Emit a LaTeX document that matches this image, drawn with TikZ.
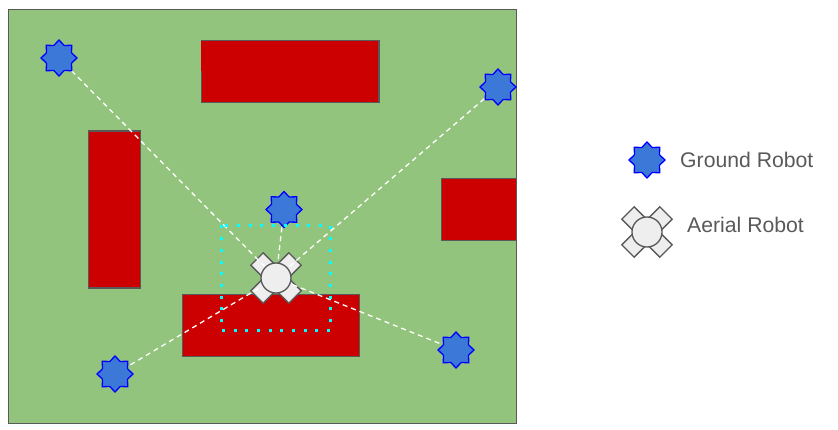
\documentclass[tikz,border=0pt]{standalone}
\usepackage{fontspec}
\setmainfont{Liberation Sans}
\usetikzlibrary{shapes.geometric}
\pgfdeclarelayer{base}
\pgfdeclarelayer{arms}
\pgfdeclarelayer{links}
\pgfsetlayers{base,arms,links,main}
\definecolor{fieldgreen}{HTML}{93C47D}
\definecolor{blockred}{HTML}{CC0000}
\definecolor{edgegrey}{HTML}{595959}
\definecolor{robotblue}{HTML}{3C78D8}
\definecolor{bodygrey}{HTML}{EEEEEE}
\definecolor{zonecyan}{HTML}{00FFFF}
\definecolor{pureblue}{HTML}{0000FF}
\tikzset{
  field/.style={draw=edgegrey,fill=fieldgreen,line width=1.2pt},
  block/.style={draw=edgegrey,fill=blockred,line width=1.2pt},
  ground/.style={star,star points=8,star point ratio=1.33,minimum size=36pt,inner sep=0pt,draw=pureblue,fill=robotblue,line width=1.3pt},
  armbox/.style={rectangle,minimum width=21pt,minimum height=17.5pt,inner sep=0pt,draw=edgegrey,fill=bodygrey,line width=1.3pt},
  hub/.style={circle,minimum size=30pt,inner sep=0pt,draw=edgegrey,fill=bodygrey,line width=1.3pt},
  link/.style={draw=white,line width=1.3pt,dash pattern=on 5pt off 4pt},
  zone/.style={draw=zonecyan,line width=3pt,dash pattern=on 3pt off 8.7pt},
  legendtext/.style={text=edgegrey,font=\fontsize{21.2pt}{25pt}\selectfont,anchor=west,inner sep=0pt}
}
\newcommand{\aerialrobot}[2]{%
  \node[hub] (#1) at (#2) {};
  \begin{pgfonlayer}{arms}
    \node[armbox,rotate=45]  (#1ne) at ([shift={(11.6,-11.6)}]#2) {};
    \node[armbox,rotate=135] (#1nw) at ([shift={(-11.6,-11.6)}]#2) {};
    \node[armbox,rotate=45]  (#1sw) at ([shift={(-11.6,11.6)}]#2) {};
    \node[armbox,rotate=135] (#1se) at ([shift={(11.6,11.6)}]#2) {};
  \end{pgfonlayer}}
\begin{document}
\begin{tikzpicture}[x=1pt,y=-1pt]
\useasboundingbox (0,0) rectangle (838,430);
\begin{pgfonlayer}{base}
  \draw[field] (8.5,9.5) rectangle (516.5,423.5);
  \draw[block] (201.5,40.5) rectangle (379,102.5);
  \fill[blockred] (200.5,41) rectangle (203,71);
  \draw[block] (88.5,131) rectangle (140.5,288);
  \draw[block] (441.5,178.5) rectangle (516.5,240.5);
  \draw[block] (182.5,294.5) rectangle (359.5,356.5);
\end{pgfonlayer}
\aerialrobot{air}{276,278}
\node[ground] (g1) at (59,58) {};
\node[ground] (g2) at (498,87) {};
\node[ground] (g3) at (284,209.5) {};
\node[ground] (g4) at (456,350) {};
\node[ground] (g5) at (115,374) {};
\begin{pgfonlayer}{links}
  \draw[link] (g1.center) -- (air.center);
  \draw[link] (g2.center) -- (air.center);
  \draw[link] (g3.center) -- (air.center);
  \draw[link] (g4.center) -- (air.center);
  \draw[link] (g5.center) -- (air.center);
\end{pgfonlayer}
\draw[zone] (221.5,225.5) rectangle (330.5,330.5);
\node[ground] (lg) at (647,160) {};
\node[legendtext] (lgt) at (680,160) {Ground Robot};
\aerialrobot{la}{647,232}
\node[legendtext] (lat) at (687,225) {Aerial Robot};
\end{tikzpicture}
\end{document}
